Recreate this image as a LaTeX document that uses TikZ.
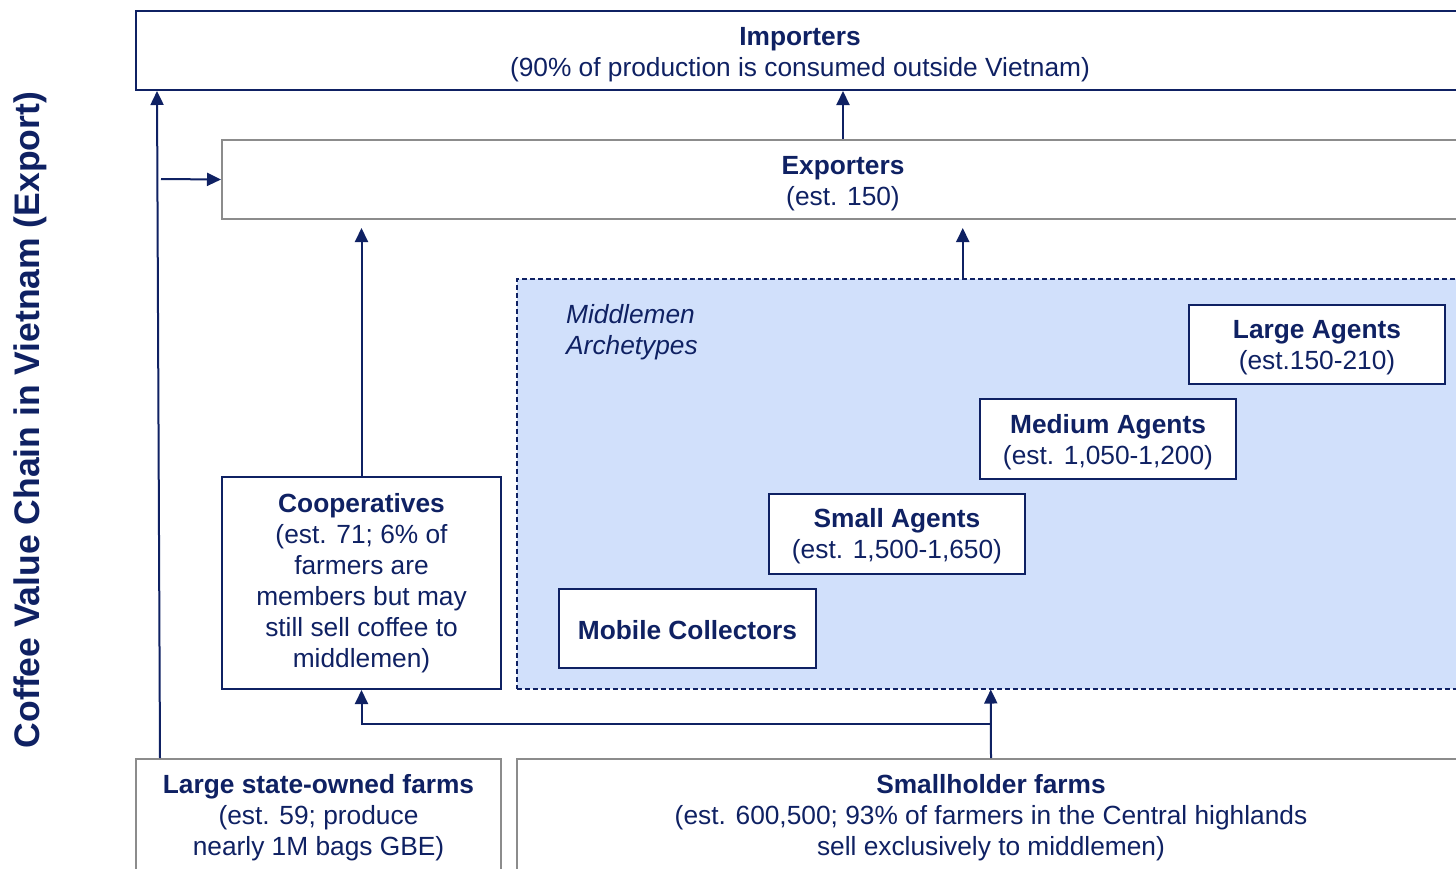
\documentclass[tikz,border=0pt]{standalone}
\usepackage{fontspec}
\setmainfont{Liberation Sans}
\usetikzlibrary{arrows.meta,calc}
\definecolor{navy}{HTML}{0F2163}
\definecolor{boxgray}{HTML}{8C8C8C}
\definecolor{mfill}{HTML}{D1E0FB}
\newcommand\mytopstrut[1]{\rule{0pt}{#1}}
\begin{document}
\begin{tikzpicture}[x=1pt,y=-1pt,
  every node/.style={font=\fontsize{26.3}{31}\selectfont, text=navy, inner sep=0pt, align=center},
  navybox/.style={draw=navy, line width=2pt, fill=white, anchor=north west},
  graybox/.style={draw=boxgray, line width=2pt, fill=white, anchor=north west},
  arr/.style={draw=navy, line width=2pt, -{Triangle[width=13pt,length=14pt]}}]
\useasboundingbox (0,0) rectangle (1456,868);
\clip (0,0) rectangle (1456,868);
\fill[white] (0,0) rectangle (1456,868);

\node[navybox, minimum width=1328pt, minimum height=79pt] (imp) at (135,10)
  {\mytopstrut{26pt}\textbf{Importers}\\(90\% of production is consumed outside Vietnam)};
\node[graybox, minimum width=1242pt, minimum height=79pt] (exp) at (221,139)
  {\mytopstrut{26pt}\textbf{Exporters}\\(est. 150)};

\node[draw=navy, dashed, dash pattern=on 5pt off 3pt, line width=1.5pt, fill=mfill,
  anchor=north west, minimum width=948pt, minimum height=410pt] (mid) at (516,278) {};
\node[anchor=west, align=left, font=\fontsize{26.3}{31}\selectfont\itshape] (midlbl) at (566,332)
  {Middlemen\\Archetypes};

\node[navybox, minimum width=256pt, minimum height=79pt] (large) at (1188,304)
  {\mytopstrut{25pt}\textbf{Large Agents}\\(est.150-210)};
\node[navybox, minimum width=256pt, minimum height=80pt] (medium) at (979,398)
  {\mytopstrut{25pt}\textbf{Medium Agents}\\(est. 1,050-1,200)};
\node[navybox, minimum width=256pt, minimum height=80pt] (small) at (768,493)
  {\mytopstrut{24pt}\textbf{Small Agents}\\(est. 1,500-1,650)};
\node[navybox, minimum width=257pt, minimum height=79pt] (mobile) at (558,588)
  {\mytopstrut{23pt}\textbf{Mobile Collectors}};

\node[navybox, minimum width=279pt, minimum height=212pt] (coop) at (221,476)
  {\textbf{Cooperatives}\\(est. 71; 6\% of\\farmers are\\members but may\\still sell coffee to\\middlemen)};

\node[graybox, minimum width=365pt, minimum height=116pt] (lsf) at (135,758)
  {\mytopstrut{21pt}\textbf{Large state-owned farms}\\(est. 59; produce\\nearly 1M bags GBE)};
\node[graybox, minimum width=948pt, minimum height=116pt] (shf) at (516,758)
  {\mytopstrut{21pt}\textbf{Smallholder farms}\\(est. 600,500; 93\% of farmers in the Central highlands\\sell exclusively to middlemen)};

\node[rotate=90, font=\fontsize{35.5}{42}\selectfont\bfseries] (title) at (30,420)
  {Coffee Value Chain in Vietnam (Export)};

\draw[arr] ([xshift=25pt]lsf.north west) -- ([xshift=22pt]imp.south west);
\coordinate (j1) at (161,179);
\draw[arr] (j1) -- (exp.west);
\draw[arr] (exp.north) -- (exp.north |- imp.south);
\draw[arr, shorten >=8pt] (coop.north) -- (coop.north |- exp.south);
\draw[arr, shorten >=8pt] ([xshift=-28pt]mid.north) -- ([xshift=-28pt]mid.north |- exp.south);
\draw[arr] (shf.north) -- (mid.south);
\coordinate (j2) at ($(shf.north)!0.5!(mid.south)$);
\draw[arr] (j2) -| (coop.south);
\end{tikzpicture}
\end{document}
